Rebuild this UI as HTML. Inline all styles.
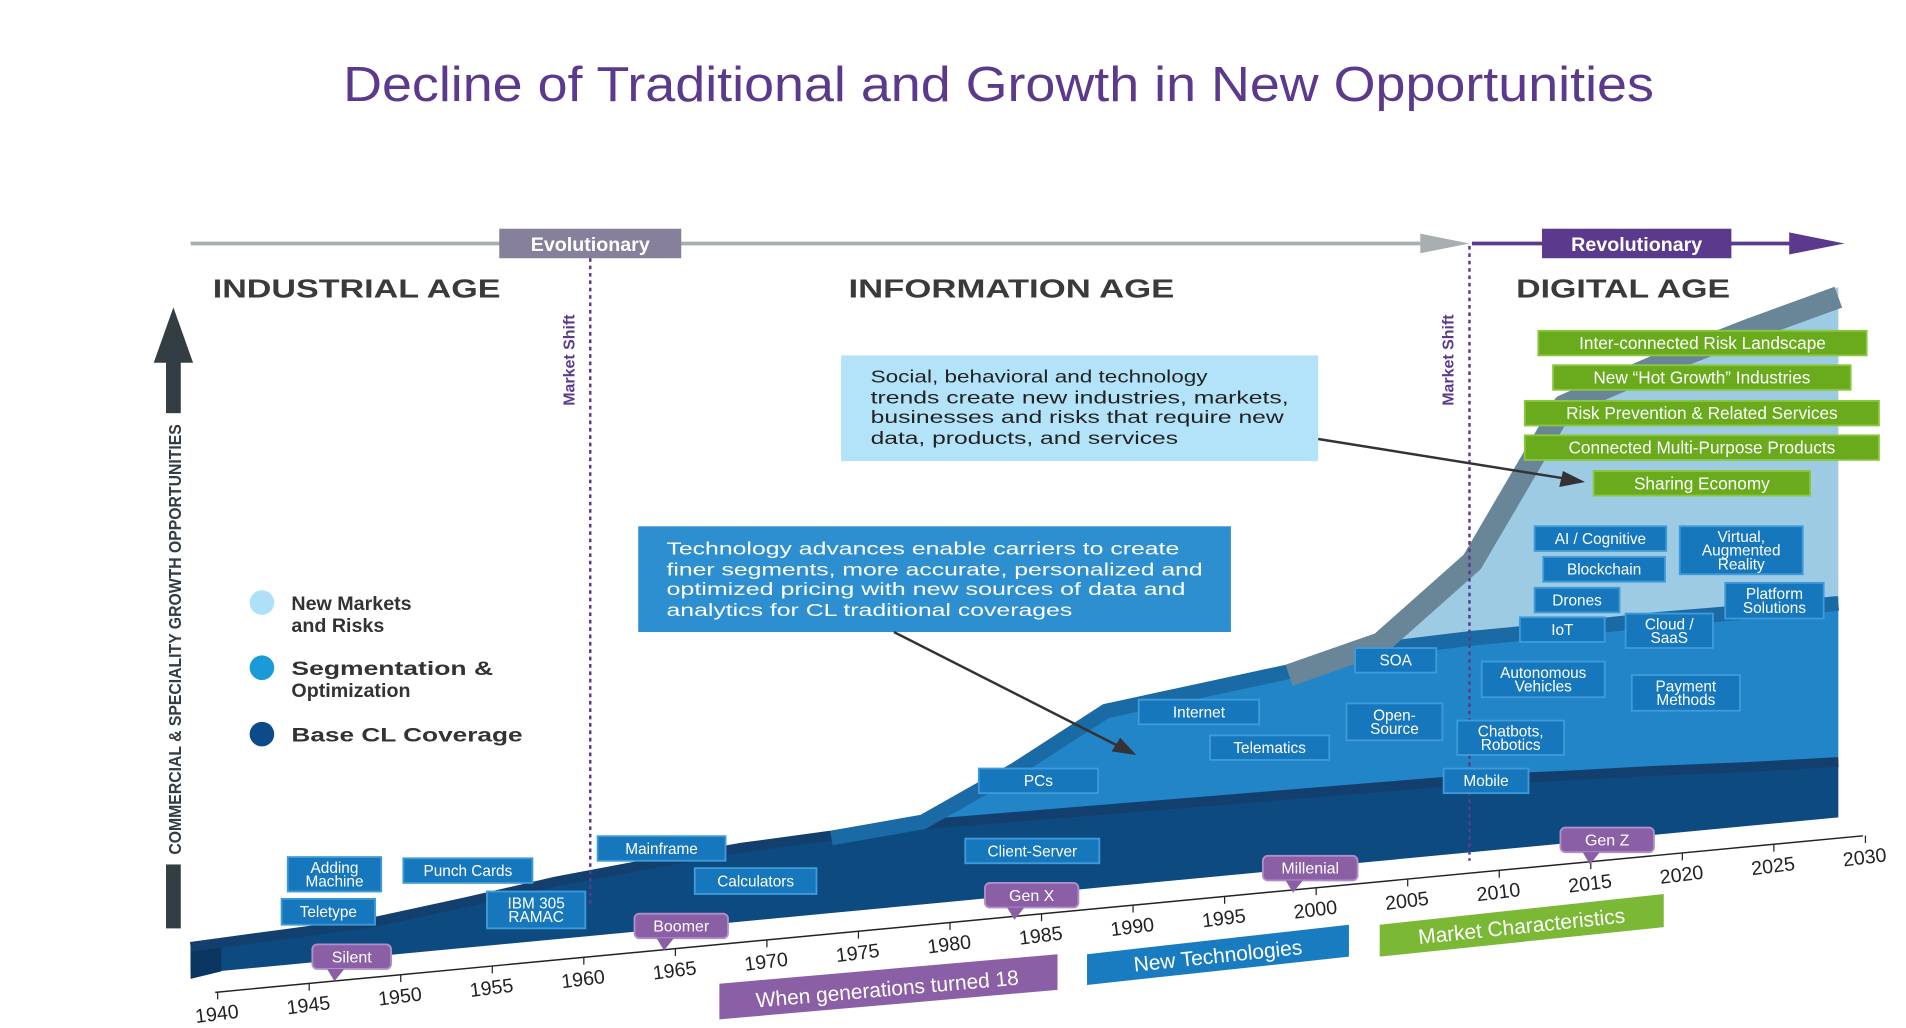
<!DOCTYPE html>
<html><head><meta charset="utf-8"><style>
html,body{margin:0;padding:0;background:#fff;}
svg{display:block;font-family:"Liberation Sans",sans-serif;}
</style></head><body>
<svg id="chart" width="1906" height="1028" viewBox="0 0 1550 836" xmlns="http://www.w3.org/2000/svg">
<text x="812" y="82" text-anchor="middle" font-size="40" fill="#5b3a8e" textLength="1066" lengthAdjust="spacingAndGlyphs">Decline of Traditional and Growth in New Opportunities</text>

<g>
<line x1="155" y1="198" x2="1160" y2="198" stroke="#a9aeb0" stroke-width="3"/>
<polygon points="1155,190 1195,198 1155,206" fill="#a9aeb0"/>
<line x1="1197" y1="198" x2="1460" y2="198" stroke="#5b3a8e" stroke-width="3"/>
<polygon points="1455,189 1500,198 1455,207" fill="#5b3a8e"/>
<rect x="406" y="186" width="148" height="24" fill="#86809a"/>
<text x="480" y="204" text-anchor="middle" font-size="16" font-weight="bold" fill="#fff">Evolutionary</text>
<rect x="1254" y="186" width="154" height="24" fill="#5b3a8e"/>
<text x="1331" y="204" text-anchor="middle" font-size="16" font-weight="bold" fill="#fff">Revolutionary</text>
</g>

<text x="173" y="242" font-size="21" font-weight="bold" fill="#3a3a3a" textLength="234" lengthAdjust="spacingAndGlyphs">INDUSTRIAL AGE</text>
<text x="690" y="242" font-size="21" font-weight="bold" fill="#3a3a3a" textLength="265" lengthAdjust="spacingAndGlyphs">INFORMATION AGE</text>
<text x="1233" y="242" font-size="21" font-weight="bold" fill="#3a3a3a" textLength="174" lengthAdjust="spacingAndGlyphs">DIGITAL AGE</text>

<g>
<polygon points="141,250 125,295 157,295" fill="#333d44"/>
<rect x="135" y="292" width="12" height="44" fill="#333d44"/>
<rect x="135" y="703" width="12" height="52" fill="#333d44"/>
<text transform="translate(147,520) rotate(-90)" text-anchor="middle" font-size="14" font-weight="bold" fill="#333d44" textLength="350" lengthAdjust="spacingAndGlyphs">COMMERCIAL &amp; SPECIALITY GROWTH OPPORTUNITIES</text>
</g>

<g>
<circle cx="213" cy="490" r="10" fill="#aee0f7"/>
<text x="237" y="496" font-size="16" font-weight="bold" fill="#333">New Markets</text>
<text x="237" y="514" font-size="16" font-weight="bold" fill="#333">and Risks</text>
<circle cx="213" cy="543" r="10" fill="#1a9ad9"/>
<text x="237" y="549" font-size="16" font-weight="bold" fill="#333" textLength="164" lengthAdjust="spacingAndGlyphs">Segmentation &amp;</text>
<text x="237" y="567" font-size="16" font-weight="bold" fill="#333">Optimization</text>
<circle cx="213" cy="597" r="10" fill="#0d4a8a"/>
<text x="237" y="603" font-size="16" font-weight="bold" fill="#333" textLength="188" lengthAdjust="spacingAndGlyphs">Base CL Coverage</text>
</g>

<g id="areas"></g>
<g id="axis"></g>

<g>
<line x1="480" y1="210" x2="480" y2="735" stroke="#5b3a8e" stroke-width="2" stroke-dasharray="3,3"/>
<line x1="1195" y1="200" x2="1195" y2="700" stroke="#5b3a8e" stroke-width="2" stroke-dasharray="3,3"/>
<text transform="translate(467,330) rotate(-90)" font-size="13" font-weight="bold" fill="#5b3a8e">Market Shift</text>
<text transform="translate(1182,330) rotate(-90)" font-size="13" font-weight="bold" fill="#5b3a8e">Market Shift</text>
</g>

<g id="boxes"></g>

<g>
<rect x="684" y="289" width="388" height="86" fill="#b3e3f8"/>
<text font-size="14.5" fill="#222"><tspan x="708" y="311" textLength="274" lengthAdjust="spacingAndGlyphs">Social, behavioral and technology</tspan><tspan x="708" y="328" textLength="340" lengthAdjust="spacingAndGlyphs">trends create new industries, markets,</tspan><tspan x="708" y="344" textLength="336" lengthAdjust="spacingAndGlyphs">businesses and risks that require new</tspan><tspan x="708" y="361" textLength="250" lengthAdjust="spacingAndGlyphs">data, products, and services</tspan></text>
<line x1="1072" y1="357" x2="1278" y2="390" stroke="#333" stroke-width="2"/>
<polygon points="1289,392 1271,383 1268,396" fill="#333"/>
</g>
<g>
<rect x="519" y="428" width="482" height="86" fill="#2e8fd0"/>
<text font-size="14.5" fill="#fff"><tspan x="542" y="451" textLength="417" lengthAdjust="spacingAndGlyphs">Technology advances enable carriers to create</tspan><tspan x="542" y="468" textLength="436" lengthAdjust="spacingAndGlyphs">finer segments, more accurate, personalized and</tspan><tspan x="542" y="484" textLength="422" lengthAdjust="spacingAndGlyphs">optimized pricing with new sources of data and</tspan><tspan x="542" y="501" textLength="330" lengthAdjust="spacingAndGlyphs">analytics for CL traditional coverages</tspan></text>
<line x1="727" y1="514" x2="914" y2="609" stroke="#333" stroke-width="2"/>
<polygon points="924,614 904,611 911,600" fill="#333"/>
</g>

<g>
<polygon points="585,800 860,776 860,805 585,829" fill="#8a5fa6"/>
<text transform="translate(722,810) rotate(-5)" text-anchor="middle" font-size="17" fill="#fff">When generations turned 18</text>
</g>
<g>
<polygon points="884,776 1097,752 1097,778 884,801" fill="#1a7cc0"/>
<text transform="translate(991,783) rotate(-6)" text-anchor="middle" font-size="17" fill="#fff">New Technologies</text>
</g>
<g>
<polygon points="1122,752 1353,727 1353,754 1122,778" fill="#7ab835"/>
<text transform="translate(1238,759) rotate(-6)" text-anchor="middle" font-size="17" fill="#fff">Market Characteristics</text>
</g>
</svg>
<script>
const years = [1940,1945,1950,1955,1960,1965,1970,1975,1980,1985,1990,1995,2000,2005,2010,2015,2020,2025,2030];
const baseValues = [25,28,31,40,50,57,63,66,68,67,66,65,64,63,62,58,55,51,48];
const segValues = [0,0,0,0,0,0,0,0,4,40,82,92,102,114,117,121,125,128,131];
const newValues = [0,0,0,0,0,0,0,0,0,0,0,0,0,8,65,185,209,232,252];
const tickLabels = ['1940','1945','1950','1955','1960','1965','1970','1975','1980','1985','1990','1995','2000','2005','2010','2015','2020','2025','2030'];

const NS = 'http://www.w3.org/2000/svg';
function xs(yr){ return 155 + (yr-1940)*(1495-155)/90; }
function y0(yr){ return 792 - 0.095*(xs(yr)-155); }
function mk(tag, attrs, parent){ const e=document.createElementNS(NS,tag); for(const k in attrs) e.setAttribute(k, attrs[k]); parent.appendChild(e); return e; }

const areas = document.getElementById('areas');

function layer(lowerFn, vals, fill, name){
  const top = years.map((yr,i)=>[xs(yr), lowerFn(i)-vals[i]]);
  const bot = years.map((yr,i)=>[xs(yr), lowerFn(i)]).reverse();
  const p = mk('polygon',{points: top.concat(bot).map(p=>p.join(',')).join(' '), fill: fill}, areas);
  
  
  return top;
}
const baseTop = i => y0(years[i]) - baseValues[i];
const segTop = i => baseTop(i) - segValues[i];
const tNew = layer(segTop, newValues, '#9ecbe4', 'area-new-markets');
const tSeg = layer(baseTop, segValues, '#2185c8', 'area-segmentation');
const tBase = layer(i=>y0(years[i]), baseValues, '#0d4a80', 'area-base-coverage');

const face = mk('polygon',{points:`${xs(1940)},${y0(1940)-baseValues[0]} ${xs(1940)+25},${y0(1940)-baseValues[0]-2} ${xs(1940)+25},${y0(1940)-2} ${xs(1940)},${y0(1940)+4}`, fill:'#0a3560'}, areas);



function ridge(top, vals, color, w, name){
  const pts = top.filter((p,i)=>vals[i]>0 || (i+1<vals.length && vals[i+1]>0));
  const pl = mk('polyline',{points: pts.map(p=>p[0]+','+(p[1]+w/2-1)).join(' '), fill:'none', stroke: color, 'stroke-width': w, 'stroke-linejoin':'round'}, areas);
  
  
}
ridge(tBase, baseValues, '#123f6d', 8, 'base-ridge');
ridge(tSeg, segValues, '#1a6aa5', 12, 'segmentation-ridge');
ridge(tNew, newValues, '#688698', 18, 'new-markets-ridge');

const axis = document.getElementById('axis');
const ax = mk('line',{x1: xs(1940)+20, y1: y0(1940)+15, x2: xs(2030)+20, y2: y0(2030)+15, stroke:'#222', 'stroke-width':1.2}, axis);


years.forEach((yr,i)=>{
  const x = xs(yr)+22, y = y0(yr)+15 - 0.095*2;
  const tk = mk('line',{x1:x, y1:y, x2:x, y2:y+6, stroke:'#222', 'stroke-width':1}, axis);
  
  
  const t = mk('text',{transform:`translate(${x},${y+23}) rotate(-7)`, 'text-anchor':'middle', 'font-size':16, fill:'#222'}, axis);
  t.textContent = tickLabels[i];
  
  
});

const boxes = document.getElementById('boxes');
const techBoxes = [
 ['Adding|Machine',234,697,76,28],['Teletype',229,731,76,21],['Punch Cards',328,698,105,20],['IBM 305|RAMAC',396,725,80,30],
 ['Mainframe',486,680,104,20],['Calculators',565,706,99,21],['Client-Server',785,682,109,20],['PCs',796,625,97,20],
 ['Internet',926,569,98,20],['Telematics',984,598,97,20],['Open-|Source',1095,572,78,30],['SOA',1102,527,66,20],
 ['Mobile',1174,625,69,20],['Chatbots,|Robotics',1185,586,87,28],['Autonomous|Vehicles',1205,538,100,29],['Payment|Methods',1327,549,88,29],
 ['IoT',1236,502,69,20],['Cloud /|SaaS',1322,499,71,28],['Drones',1248,478,69,20],['Platform|Solutions',1403,474,80,29],
 ['Blockchain',1255,453,99,20],['AI / Cognitive',1248,428,107,20],['Virtual,|Augmented|Reality',1366,428,100,39]
];
const greenBoxes = [
 ['Inter-connected Risk Landscape',1251,269,267,20],['New “Hot Growth” Industries',1263,297,242,20],
 ['Risk Prevention & Related Services',1240,326,288,20],['Connected Multi-Purpose Products',1240,354,288,20],['Sharing Economy',1296,383,176,20]
];
const genBoxes = [['Silent',254,768,64,20],['Boomer',516,743,76,20],['Gen X',801,718,76,20],['Millenial',1027,696,77,20],['Gen Z',1269,673,76,20]];

function box(b, fill, stroke, fs, name, tail){
  const [label,x,y,w,h]=b;
  const g = mk('g',{}, boxes);
  
  
  mk('rect',{x:x,y:y,width:w,height:h,fill:fill,stroke:stroke,'stroke-width':1.5,rx:tail?4:0}, g);
  if(tail) mk('polygon',{points:`${x+w/2-20},${y+h} ${x+w/2-6},${y+h} ${x+w/2-14},${y+h+10}`, fill:fill}, g);
  const lines = label.split('|');
  const lh = fs*0.9;
  const t = mk('text',{'text-anchor':'middle','font-size':fs,fill:'#fff'}, g);
  lines.forEach((ln,i)=>{
    const ts = mk('tspan',{x:x+w/2, y: y+h/2 + (i-(lines.length-1)/2)*lh + fs*0.35}, t);
    ts.textContent = ln;
  });
}
techBoxes.forEach(b=>box(b,'#1677bd','#3f9ad8',12.5,'tech-'+b[0].split('|')[0].toLowerCase().replace(/[^a-z0-9]+/g,'-'),false));
greenBoxes.forEach(b=>box(b,'#6aab1e','#8cc63f',14,'trend-'+b[0].toLowerCase().replace(/[^a-z0-9]+/g,'-'),false));
genBoxes.forEach(b=>box(b,'#8a5fa6','#b08fc8',13,'gen-'+b[0].toLowerCase().replace(/[^a-z0-9]+/g,'-'),true));
</script>
</body></html>
